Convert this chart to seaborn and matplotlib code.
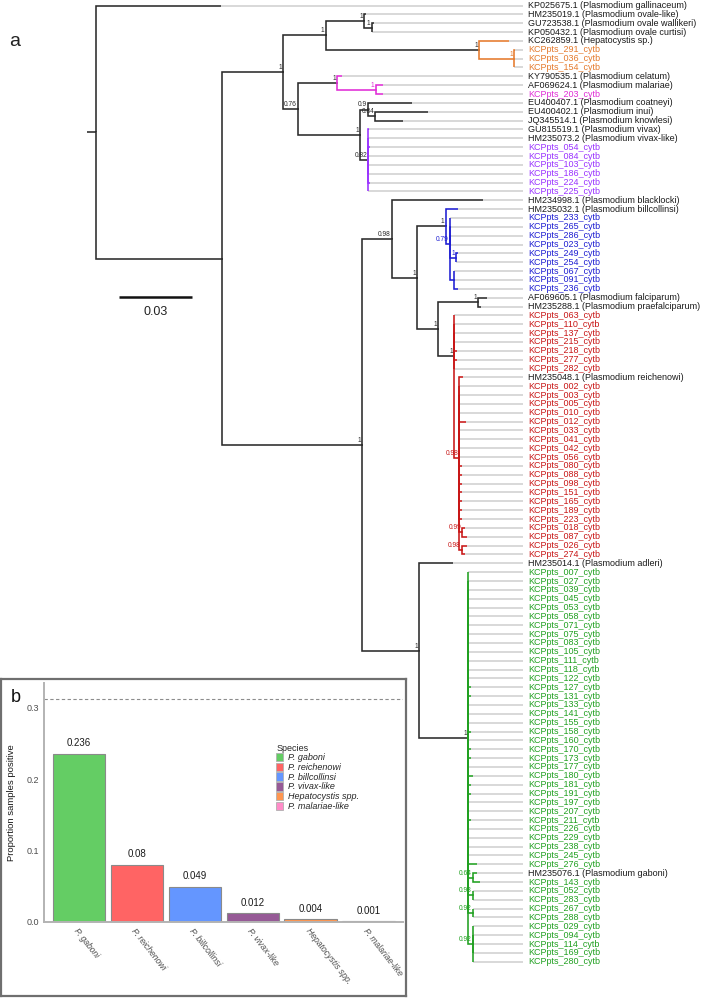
import matplotlib
matplotlib.use('Agg')
import matplotlib.pyplot as plt
import seaborn as sns
import pandas as pd
import numpy as np
from matplotlib import font_manager
from matplotlib.patches import Patch
from collections import defaultdict

sns.set_theme(style='white')
_installed = {f.name for f in font_manager.fontManager.ttflist}
TREE_FONT = 'Liberation Sans Narrow' if 'Liberation Sans Narrow' in _installed else 'Liberation Sans'
TREE_FS = 7.4 if TREE_FONT == 'Liberation Sans Narrow' else 6.5
plt.rcParams['font.family'] = ['Liberation Sans', 'DejaVu Sans']

# ---------------- data: phylogeny (cytb, branch lengths in subs/site) ----------------
node_names   = ['root', 'A', 'B', 'D', 'Ov', 'Ov2', 'Hep', 'HepK', 'C', 'Mal', 'Mal2', 'E', 'F', 'G', 'Viv',
                'H', 'I', 'J', 'K', 'L', 'M', 'N', 'O', 'P', 'Q', 'R', 'S', 'T', 'U', 'V', 'W', 'X', 'Y', 'Z']
node_parents = [None, 'root', 'A', 'B', 'D', 'Ov', 'D', 'Hep', 'B', 'C', 'Mal', 'C', 'E', 'F', 'E',
                'A', 'H', 'I', 'J', 'K', 'L', 'L', 'J', 'O', 'O', 'Q', 'R', 'R', 'H', 'U', 'V', 'V', 'V', 'V']
node_lengths = [0.0035, 0.0520, 0.0251, 0.0175, 0.0159, 0.0030, 0.0630, 0.0144, 0.0062, 0.0160, 0.0159,
                0.0255, 0.0032, 0.0030, 0.0033, 0.0575, 0.0122, 0.0105, 0.0117, 0.0018, 0.0025, 0.0016,
                0.0086, 0.0164, 0.0066, 0.0021, 0.0012, 0.0010, 0.0234, 0.0203, 0.0018, 0.0018, 0.0018, 0.0018]
node_support = ['', '', '1', '1', '1', '1', '1', '1', '0.76', '1', '1', '1', '0.9', '0.84', '0.82',
                '1', '0.98', '1', '1', '0.79', '1', '', '1', '1', '1', '0.98', '0.99', '0.98', '1', '1',
                '0.64', '0.93', '0.92', '0.92']
clade_colors = {'Hep': '#E57A2C', 'Mal': '#E02CD6', 'Viv': '#9932FF',
                'K': '#1E1ED2', 'Q': '#C81616', 'V': '#20A020'}


def s(n):
    return 'KCPpts_' + n + '_cytb'


tips_outgroup = [('KP025675.1 (Plasmodium gallinaceum)', 'root', 0.0516)]
tips_ovale = [('HM235019.1 (Plasmodium ovale-like)', 'Ov', 0.0007),
              ('GU723538.1 (Plasmodium ovale wallikeri)', 'Ov2', 0.0011),
              ('KP050432.1 (Plasmodium ovale curtisi)', 'Ov2', 0.0)]
tips_hepatocystis = [('KC262859.1 (Hepatocystis sp.)', 'Hep', 0.0123),
                     (s('291'), 'HepK', 0.0006), (s('036'), 'HepK', 0.0), (s('154'), 'HepK', 0.0)]
tips_malariae = [('KY790535.1 (Plasmodium celatum)', 'Mal', 0.0021),
                 ('AF069624.1 (Plasmodium malariae)', 'Mal2', 0.0030), (s('203'), 'Mal2', 0.0030)]
tips_knowlesi = [('EU400407.1 (Plasmodium coatneyi)', 'F', 0.0182),
                 ('EU400402.1 (Plasmodium inui)', 'G', 0.0218),
                 ('JQ345514.1 (Plasmodium knowlesi)', 'G', 0.0114)]
tips_vivax = [('GU815519.1 (Plasmodium vivax)', 'Viv', 0.0002),
              ('HM235073.2 (Plasmodium vivax-like)', 'Viv', 0.0),
              (s('054'), 'Viv', 0.0008), (s('084'), 'Viv', 0.0), (s('103'), 'Viv', 0.0),
              (s('186'), 'Viv', 0.0), (s('224'), 'Viv', 0.0008), (s('225'), 'Viv', 0.0)]
tips_billcollinsi = [('HM234998.1 (Plasmodium blacklocki)', 'I', 0.0374),
                     ('HM235032.1 (Plasmodium billcollinsi)', 'K', 0.0052),
                     (s('233'), 'L', 0.0), (s('265'), 'L', 0.0006), (s('286'), 'L', 0.0006),
                     (s('023'), 'L', 0.0), (s('249'), 'M', 0.0007), (s('254'), 'M', 0.0),
                     (s('067'), 'N', 0.0), (s('091'), 'N', 0.0), (s('236'), 'N', 0.0017)]
tips_falciparum = [('AF069605.1 (Plasmodium falciparum)', 'P', 0.0035),
                   ('HM235288.1 (Plasmodium praefalciparum)', 'P', 0.0014)]
tips_reichenowi = [(s('063'), 'Q', 0.0), (s('110'), 'Q', 0.0), (s('137'), 'Q', 0.0), (s('215'), 'Q', 0.0),
                   (s('218'), 'Q', 0.0012), (s('277'), 'Q', 0.0012), (s('282'), 'Q', 0.0),
                   ('HM235048.1 (Plasmodium reichenowi)', 'R', 0.0016),
                   (s('002'), 'R', 0.0), (s('003'), 'R', 0.0), (s('005'), 'R', 0.0), (s('010'), 'R', 0.0),
                   (s('012'), 'R', 0.0028), (s('033'), 'R', 0.0), (s('041'), 'R', 0.0), (s('042'), 'R', 0.0),
                   (s('056'), 'R', 0.0), (s('080'), 'R', 0.0012), (s('088'), 'R', 0.0012),
                   (s('098'), 'R', 0.0012), (s('151'), 'R', 0.0012), (s('165'), 'R', 0.0012),
                   (s('189'), 'R', 0.0012), (s('223'), 'R', 0.0012),
                   (s('018'), 'S', 0.0011), (s('087'), 'S', 0.0018),
                   (s('026'), 'T', 0.0021), (s('274'), 'T', 0.0014)]
gaboni_samples = ['007', '027', '039', '045', '053', '058', '071', '075', '083', '105', '111', '118',
                  '122', '127', '131', '133', '141', '155', '158', '160', '170', '173', '177', '180',
                  '181', '191', '197', '207', '211', '226', '229', '238', '245', '276']
gaboni_stub = {'127': 0.0012, '131': 0.0012, '158': 0.0012, '170': 0.0012, '173': 0.0012,
               '180': 0.0019, '181': 0.0012, '191': 0.0012, '211': 0.0012, '276': 0.0034}
tips_gaboni = ([('HM235014.1 (Plasmodium adleri)', 'U', 0.0141)] +
               [(s(n), 'V', gaboni_stub.get(n, 0.0)) for n in gaboni_samples] +
               [('HM235076.1 (Plasmodium gaboni)', 'W', 0.0019), (s('143'), 'W', 0.0030),
                (s('052'), 'X', 0.0), (s('283'), 'X', 0.0), (s('267'), 'Y', 0.0), (s('288'), 'Y', 0.0),
                (s('029'), 'Z', 0.0), (s('094'), 'Z', 0.0), (s('114'), 'Z', 0.0),
                (s('169'), 'Z', 0.0), (s('280'), 'Z', 0.0)])

# ---------------- data: panel b ----------------
species = ['P. gaboni', 'P. reichenowi', 'P. billcollinsi', 'P. vivax-like', 'Hepatocystis spp.', 'P. malariae-like']
proportions = [0.236, 0.08, 0.049, 0.012, 0.004, 0.001]
bar_colors = ['#64CD64', '#FF6464', '#6496FF', '#965A96', '#FF9650', '#FF8CC8']
reference_line = 0.312

# ---------------- tree layout ----------------
tips = (tips_outgroup + tips_ovale + tips_hepatocystis + tips_malariae + tips_knowlesi + tips_vivax +
        tips_billcollinsi + tips_falciparum + tips_reichenowi + tips_gaboni)
parent_of = dict(zip(node_names, node_parents))
length_of = dict(zip(node_names, node_lengths))
support_of = dict(zip(node_names, node_support))
children = defaultdict(list)
for n, p in zip(node_names, node_parents):
    if p is not None:
        children[p].append(('node', n))
for i, (lab, p, ln) in enumerate(tips):
    children[p].append(('tip', i))

depth = {}
def get_depth(n):
    if n not in depth:
        depth[n] = 0.0 if parent_of[n] is None else get_depth(parent_of[n]) + length_of[n]
    return depth[n]

ypos = {}
def get_y(n):
    if n not in ypos:
        ypos[n] = float(np.mean([(c + 1) if k == 'tip' else get_y(c) for k, c in children[n]]))
    return ypos[n]

BLACK = '#2a2a2a'
def color_below(n):
    while n is not None:
        if n in clade_colors:
            return clade_colors[n]
        n = parent_of[n]
    return BLACK

for n in node_names:
    get_depth(n); get_y(n)

# pixel mapping helpers (figure is 706 x 999 px)
PX_PER_UNIT = 73 / 0.03
ROOT_PX = 95.5
TIP0_PX, TIP_STEP = 5.5, 8.854
def xd(px): return (px - ROOT_PX) / PX_PER_UNIT
def yd(py): return 1 + (py - TIP0_PX) / TIP_STEP

fig = plt.figure(figsize=(7.06, 9.99), dpi=100)
ax = fig.add_axes([0, 0, 1, 1])
ax.set_xlim(xd(0), xd(706))
ax.set_ylim(yd(999), yd(0))
ax.set_axis_off()

LW = 1.15
# root stub
ax.plot([-length_of['root'], 0], [ypos['root']] * 2, color=BLACK, lw=LW, solid_capstyle='butt')
for n in node_names:
    p = parent_of[n]
    if p is None:
        continue
    c = color_below(p)
    ax.plot([depth[p], depth[p], depth[n]], [ypos[p], ypos[n], ypos[n]], color=c, lw=LW,
            solid_capstyle='projecting', solid_joinstyle='miter', zorder=3)
    if support_of[n]:
        ax.text(depth[n] - 1.2 / PX_PER_UNIT, ypos[n] - 0.12, support_of[n], ha='right', va='bottom',
                fontsize=4.8, color=color_below(p), family=TREE_FONT, zorder=4)

X_GREY_END = xd(523)
X_LABEL = xd(528)
for i, (lab, p, ln) in enumerate(tips):
    y = i + 1
    c = color_below(p)
    xt = depth[p] + ln
    ax.plot([depth[p], depth[p], xt], [ypos[p], y, y], color=c, lw=LW,
            solid_capstyle='butt', solid_joinstyle='miter', zorder=3)
    ax.plot([xt, X_GREY_END], [y, y], color='#d6d6d6', lw=1.3, zorder=1, solid_capstyle='butt')
    tcol = c if lab.startswith('KCPpts') else '#1a1a1a'
    ax.text(X_LABEL, y, lab, ha='left', va='center', fontsize=TREE_FS, color=tcol, family=TREE_FONT)

# scale bar
sb0 = xd(119)
ax.plot([sb0, sb0 + 0.03], [yd(297.3)] * 2, color='#111111', lw=1.8, solid_capstyle='butt')
ax.text(sb0 + 0.015, yd(312), '0.03', ha='center', va='center', fontsize=9, color='#222222')
fig.text(15 / 706, 1 - 42 / 999, 'a', fontsize=14, ha='center', va='center', color='#222222')

# ---------------- panel b ----------------
ax_box = fig.add_axes([1 / 706, 3 / 999, 405 / 706, 317 / 999])
ax_box.set_xticks([]); ax_box.set_yticks([])
ax_box.set_facecolor('white')
for sp in ax_box.spines.values():
    sp.set_color('#6f6f6f'); sp.set_linewidth(1.6)

ax_b = fig.add_axes([44.3 / 706, 77.3 / 999, 359 / 706, 238.7 / 999])
df = pd.DataFrame({'species': species, 'prop': proportions})
sns.barplot(data=df, x='species', y='prop', hue='species', palette=bar_colors, order=species,
            hue_order=species, width=0.905, edgecolor='#8a8a8a', linewidth=0.8, saturation=1,
            legend=False, ax=ax_b)
ax_b.set_xlim(-0.6, 5.6)
ax_b.set_ylim(0, 0.335)
ax_b.axhline(reference_line, color='#8c8c8c', lw=0.8, ls=(0, (3, 2.2)))
for i, v in enumerate(proportions):
    ax_b.text(i, v + 0.0145, str(v), ha='center', va='center', fontsize=7, color='#1a1a1a')
ax_b.set_yticks([0, 0.1, 0.2, 0.3])
ax_b.set_yticklabels(['0.0', '0.1', '0.2', '0.3'])
ax_b.set_xticks(range(len(species)))
ax_b.set_xticklabels(species, rotation=-52, ha='left', rotation_mode='anchor', fontstyle='italic')
ax_b.tick_params(axis='both', labelsize=6.5, labelcolor='#4d4d4d', color='#b3b3b3', length=2, width=0.8,
                 pad=2)
ax_b.tick_params(axis='x', labelsize=6.2, pad=1.5)
ax_b.set_xlabel('')
ax_b.set_ylabel('Proportion samples positive', fontsize=6.8, color='#1a1a1a')
ax_b.yaxis.set_label_coords(-0.078, 0.5)
for sp in ['top', 'right']:
    ax_b.spines[sp].set_visible(False)
for sp in ['left', 'bottom']:
    ax_b.spines[sp].set_color('#b3b3b3'); ax_b.spines[sp].set_linewidth(1.4)
ax_b.set_facecolor('none')

handles = [Patch(facecolor=c, edgecolor='#b0b0b0', linewidth=0.6) for c in bar_colors]
leg = ax_b.legend(handles, species, title='Species', loc='upper left', bbox_to_anchor=(0.633, 0.765),
                  frameon=False, fontsize=6.5, title_fontsize=6.5, handlelength=0.75, handleheight=1.05,
                  labelspacing=0.05, handletextpad=0.55, borderpad=0, alignment='left',
                  prop={'style': 'italic', 'size': 6.5})
fig.text(16 / 706, 1 - 698 / 999, 'b', fontsize=13, ha='center', va='center', color='#111111')

fig.savefig('out.png', dpi=100)
